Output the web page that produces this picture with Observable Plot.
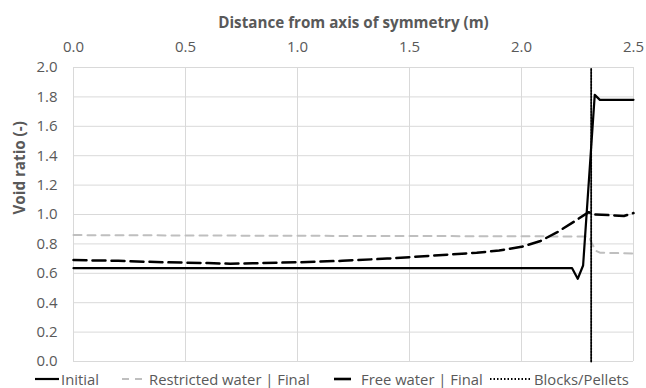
<!DOCTYPE html>
<html>
<head>
<meta charset="utf-8">
<script src="https://cdn.jsdelivr.net/npm/d3@7"></script>
<script src="https://cdn.jsdelivr.net/npm/@observablehq/plot@0.6"></script>
<style>
  body { margin: 0; background: #fff; font-family: "Open Sans", sans-serif; }
  #wrap { position: relative; width: 646px; height: 388px; }
  #legend { position: absolute; left: 0; top: 370px; width: 646px; height: 18px; font-size: 14.8px; color: #595959; }
  #legend .item { position: absolute; top: 0; height: 18px; display: flex; align-items: center; white-space: nowrap; }
  #legend svg { display: block; margin-right: 2px; }
</style>
</head>
<body>
<div id="wrap">
  <div id="chart"></div>
  <div id="legend"></div>
</div>
<script>
// ---- data ----
const xTicks = [0, 0.5, 1.0, 1.5, 2.0, 2.5];
const yTicks = [0, 0.2, 0.4, 0.6, 0.8, 1.0, 1.2, 1.4, 1.6, 1.8, 2.0];

const initialX = [0, 2.226, 2.251, 2.275, 2.327, 2.35, 2.5];
const initialY = [0.635, 0.635, 0.563, 0.653, 1.814, 1.78, 1.78];

const restrictedX = [0, 1.0, 2.0, 2.29, 2.30, 2.33, 2.35, 2.5];
const restrictedY = [0.86, 0.855, 0.852, 0.85, 0.85, 0.755, 0.74, 0.735];

const freeX = [0, 0.2, 0.4, 0.6, 0.7, 0.8, 1.0, 1.2, 1.4, 1.6, 1.8, 1.9, 2.0, 2.085, 2.16, 2.233, 2.30, 2.323, 2.40, 2.457, 2.5];
const freeY = [0.69, 0.685, 0.675, 0.67, 0.665, 0.668, 0.675, 0.685, 0.70, 0.72, 0.74, 0.755, 0.78, 0.82, 0.88, 0.95, 1.016, 1.0, 0.995, 0.99, 1.01];

const boundaryX = [2.311, 2.311];
const boundaryY = [0, 2.0];

const seriesNames = ["Initial", "Restricted water | Final", "Free water | Final", "Blocks/Pellets"];

// ---- build tables ----
const toRows = (xs, ys) => xs.map((x, i) => ({x, y: ys[i]}));
const initial = toRows(initialX, initialY);
const restricted = toRows(restrictedX, restrictedY);
const free = toRows(freeX, freeY);
const boundary = toRows(boundaryX, boundaryY);

const grey = "#595959";

const chart = Plot.plot({
  width: 646,
  height: 370,
  marginTop: 67,
  marginBottom: 9,
  marginLeft: 73,
  marginRight: 13,
  style: {fontFamily: "Open Sans, sans-serif", fontSize: "15px", color: grey, background: "#fff"},
  x: {domain: [0, 2.5]},
  y: {domain: [0, 2.0]},
  marks: [
    Plot.gridX(xTicks, {stroke: "#d9d9d9", strokeOpacity: 1, strokeWidth: 1}),
    Plot.gridY(yTicks, {stroke: "#d9d9d9", strokeOpacity: 1, strokeWidth: 1}),
    Plot.axisX(xTicks, {anchor: "top", tickSize: 0, tickPadding: 16, tickFormat: d3.format(".1f"), label: null, fill: grey, fontSize: 15}),
    Plot.axisY(yTicks, {anchor: "left", tickSize: 0, tickPadding: 16, tickFormat: d3.format(".1f"), label: null, fill: grey, fontSize: 15}),
    Plot.text([ "Distance from axis of symmetry (m)" ], {frameAnchor: "top", dy: -50, fontWeight: "bold", fontSize: 15.2, fill: grey}),
    Plot.text([ "Void ratio (-)" ], {frameAnchor: "left", dx: -53, rotate: -90, fontWeight: "bold", fontSize: 15.2, fill: grey}),
    Plot.line(restricted, {x: "x", y: "y", stroke: "#bfbfbf", strokeWidth: 2, strokeDasharray: "8,6"}),
    Plot.line(free, {x: "x", y: "y", stroke: "#000", strokeWidth: 2.5, strokeDasharray: "13,6"}),
    Plot.line(initial, {x: "x", y: "y", stroke: "#000", strokeWidth: 2.2}),
    Plot.line(boundary, {x: "x", y: "y", stroke: "#000", strokeWidth: 1.8, strokeDasharray: "1.5,1.5"})
  ]
});
document.getElementById("chart").appendChild(chart);

// ---- legend ----
const legendItems = [
  {name: seriesNames[0], left: 35, w: 24, stroke: "#000", sw: 2.2, dash: null},
  {name: seriesNames[1], left: 122, w: 25, stroke: "#bfbfbf", sw: 2, dash: "7,6"},
  {name: seriesNames[2], left: 334, w: 25, stroke: "#000", sw: 2.6, dash: null, len: 17},
  {name: seriesNames[3], left: 490, w: 42, stroke: "#000", sw: 1.8, dash: "1.5,2"}
];
const legend = d3.select("#legend");
legendItems.forEach(it => {
  const item = legend.append("div").attr("class", "item").style("left", it.left + "px");
  const s = item.append("svg").attr("width", it.w).attr("height", 18);
  s.append("line")
    .attr("x1", 0).attr("x2", it.len || it.w)
    .attr("y1", 9).attr("y2", 9)
    .attr("stroke", it.stroke).attr("stroke-width", it.sw)
    .attr("stroke-dasharray", it.dash);
  item.append("span").text(it.name);
});
</script>
</body>
</html>
